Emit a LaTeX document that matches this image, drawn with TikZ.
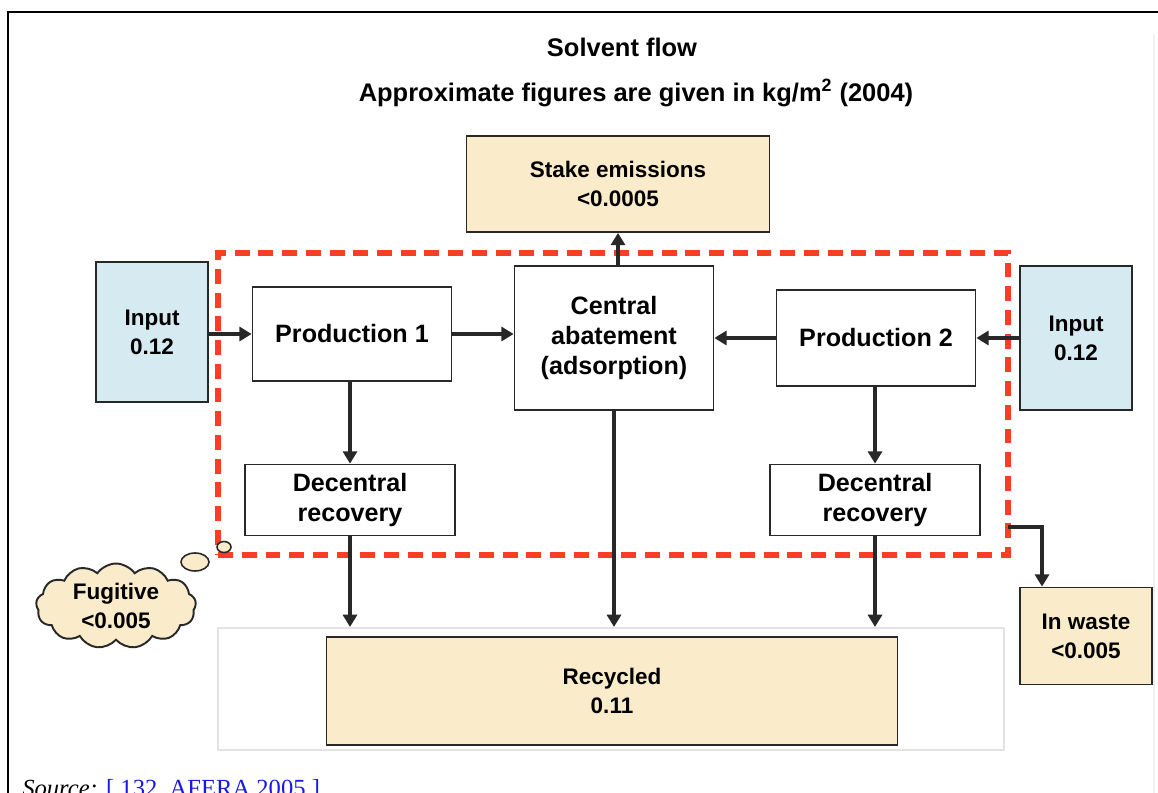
\documentclass[tikz,border=0pt]{standalone}
\usepackage{fontspec}
\setmainfont{Liberation Serif}
\setsansfont{Liberation Sans}
\usetikzlibrary{shapes, shapes.symbols, arrows.meta, positioning, calc}

\definecolor{loopred}{RGB}{250, 62, 38}
\definecolor{sinkbeige}{RGB}{250, 236, 202}
\definecolor{inblue}{RGB}{214, 234, 242}
\definecolor{edgegray}{RGB}{40, 40, 40}
\definecolor{refblue}{RGB}{25, 25, 230}

\tikzset{
  procbox/.style={draw=edgegray, line width=1pt, fill=white, align=center, inner sep=2pt,
    font=\sffamily\bfseries\fontsize{14.3}{17}\selectfont},
  sinkbox/.style={draw=edgegray, line width=1pt, fill=sinkbeige, align=center, inner sep=2pt,
    font=\sffamily\bfseries\fontsize{12.8}{16.5}\selectfont},
  inbox/.style={sinkbox, fill=inblue},
  flow/.style={draw=edgegray, line width=1.8pt, -{Triangle[length=7pt, width=8pt]}},
  bubble/.style={ellipse, draw=edgegray, line width=0.9pt, fill=sinkbeige, inner sep=0pt},
}

\begin{document}
\begin{tikzpicture}[x=0.02cm, y=-0.02cm]
  \useasboundingbox (0,0) rectangle (1158,793);

  % page frame
  \draw[line width=1.2pt] (8,800) -- (8,12) -- (1160,12);
  \draw[gray!12, line width=1.5pt] (1154,34) -- (1154,800);

  % titles
  \node[font=\sffamily\bfseries\fontsize{14.5}{17}\selectfont] (title) at (622,47) {Solvent flow};
  \node[font=\sffamily\bfseries\fontsize{14.5}{17}\selectfont] (subtitle) at (636,93) {Approximate figures are given in kg/m\textsuperscript{2} (2004)};

  % plant boundary
  \node[draw=loopred, line width=3pt, dash pattern=on 8.5pt off 5pt, minimum width=15.8cm, minimum height=6.04cm] (loop) at (613,404) {};

  \node[sinkbox, minimum width=6.06cm, minimum height=1.92cm] (stake) at (618,184) {Stake emissions\\<0.0005};
  \node[inbox, minimum width=2.24cm, minimum height=2.8cm] (inA) at (152,332) {Input\\0.12};
  \node[inbox, minimum width=2.24cm, minimum height=2.88cm] (inB) at (1076,338) {Input\\0.12};

  \node[procbox, minimum width=3.98cm, minimum height=1.88cm] (prodA) at (352,334) {Production 1};
  \node[procbox, minimum width=3.98cm, minimum height=2.88cm] (central) at (614,338) {Central\\abatement\\(adsorption)};
  \node[procbox, minimum width=3.98cm, minimum height=1.92cm] (prodB) at (876,338) {Production 2};
  \node[procbox, minimum width=4.2cm, minimum height=1.42cm] (decA) at (350,500) {Decentral\\recovery};
  \node[procbox, minimum width=4.2cm, minimum height=1.42cm] (decB) at (875,500) {Decentral\\recovery};

  % recycled sink with its pale frame
  \node[draw=gray!22, line width=1.2pt, fill=white, minimum width=15.74cm, minimum height=2.44cm] (area) at (611,689) {};
  \node[sinkbox, minimum width=11.42cm, minimum height=2.16cm] (recycled) at (612,691) {Recycled\\0.11};
  \node[sinkbox, minimum width=2.64cm, minimum height=1.94cm] (waste) at (1086,636) {In waste\\<0.005};

  % fugitive losses
  \node[cloud, cloud puffs=13, cloud puff arc=110, aspect=2, draw=edgegray, line width=1.1pt, fill=sinkbeige,
    minimum width=3.2cm, minimum height=1.7cm, align=center, inner sep=0pt,
    font=\sffamily\bfseries\fontsize{12.8}{16.5}\selectfont] (fugitive) at (116,606) {Fugitive\\<0.005};
  \node[bubble, minimum width=0.56cm, minimum height=0.36cm] (bubA) at (195,562) {};
  \node[bubble, minimum width=0.28cm, minimum height=0.22cm] (bubB) at (224,547) {};

  % flows
  \draw[flow] (inA.east |- prodA.west) -- (prodA.west);
  \draw[flow] (prodA.east) -- (prodA.east -| central.west);
  \draw[flow] (prodB.west) -- (prodB.west -| central.east);
  \draw[flow] (inB.west) -- (prodB.east);
  \draw[flow] ([xshift=0.08cm]central.north) -- ([xshift=0.08cm]central.north |- stake.south);
  \draw[flow] (prodA.south -| decA.north) -- (decA.north);
  \draw[flow] (prodB.south -| decB.north) -- (decB.north);
  \draw[flow] (decA.south) -- (decA.south |- area.north);
  \draw[flow] (central.south) -- (central.south |- area.north);
  \draw[flow] (decB.south) -- (decB.south |- area.north);
  \coordinate (leak) at (1008,527);
  \draw[flow] (leak) -| ([xshift=-0.88cm]waste.north);

  \node[anchor=base west, font=\rmfamily\fontsize{14}{16}\selectfont, inner sep=0pt] (source) at (22,796)
    {\textit{Source:} \textcolor{refblue}{[ 132, AFERA 2005 ]}};
\end{tikzpicture}
\end{document}
